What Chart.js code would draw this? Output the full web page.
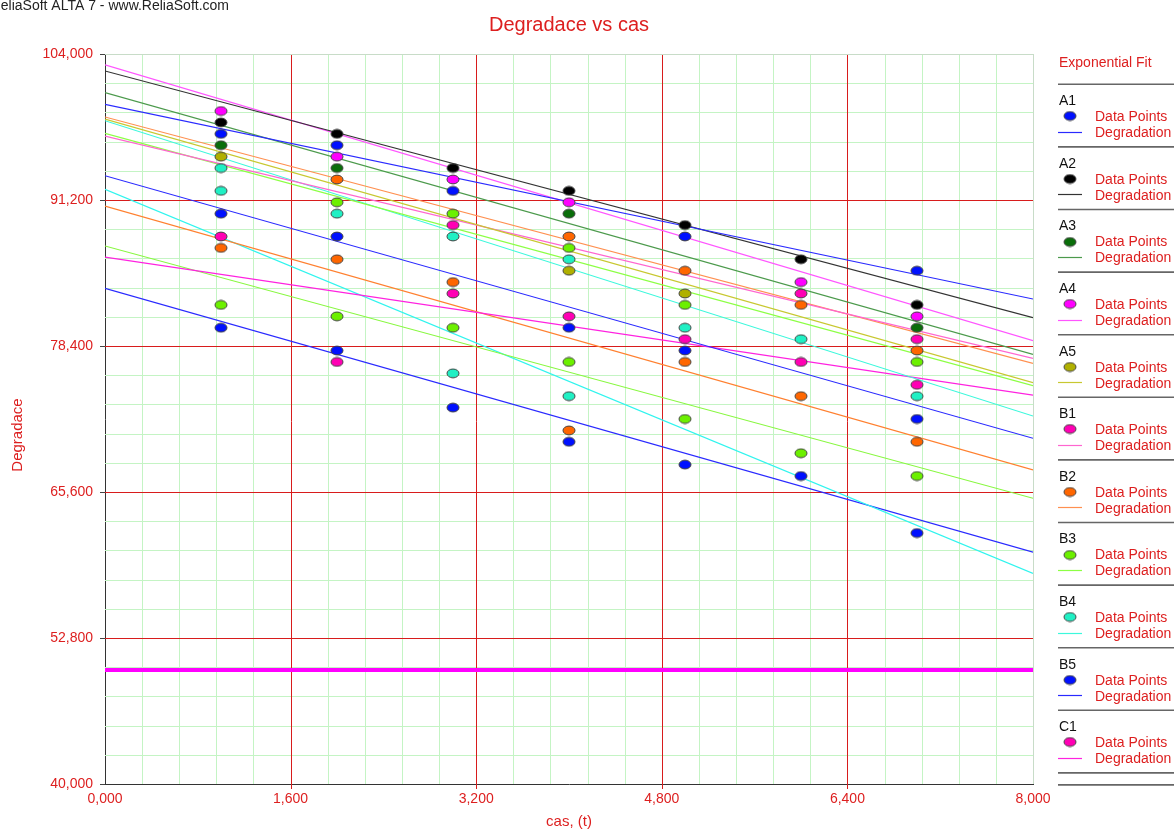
<!DOCTYPE html>
<html>
<head>
<meta charset="utf-8">
<title>Degradace vs cas</title>
<script src="https://cdn.jsdelivr.net/npm/chart.js@4.4.0/dist/chart.umd.min.js"></script>
<style>
  body { margin: 0; background: #fff; }
  #chart { display: block; }
</style>
</head>
<body>
<canvas id="chart" width="1174" height="833"></canvas>
<script>
// Inspection times (t) for every unit
const times = [1000, 2000, 3000, 4000, 5000, 6000, 7000];

// Unit names (only the first 11 fit in the legend)
const unitNames = ['A1', 'A2', 'A3', 'A4', 'A5', 'B1', 'B2', 'B3', 'B4', 'B5', 'C1', 'C2', 'C3', 'C4', 'C5'];

// Measured degradation per unit (null = hidden under another point)
const a1Values = [97000, 96000, 92000, null, 88000, null, 85000];
const a2Values = [98000, 97000, 94000, 92000, 89000, 86000, 82000];
const a3Values = [96000, 94000, null, 90000, null, null, 80000];
const a4Values = [99000, 95000, 93000, 91000, null, 84000, 81000];
const a5Values = [95000, null, null, 85000, 83000, null, null];
const b1Values = [null, null, 89000, null, null, 83000, 79000];
const b2Values = [null, 93000, null, 88000, 85000, 82000, 78000];
const b3Values = [null, 91000, 90000, 87000, 82000, null, 77000];
const b4Values = [94000, 90000, 88000, 86000, 80000, 79000, 74000];
const b5Values = [90000, 88000, null, 80000, 78000, null, 72000];
const c1Values = [88000, 77000, 83000, 81000, 79000, 77000, 75000];
const c2Values = [87000, 86000, 84000, 71000, 77000, 74000, 70000];
const c3Values = [82000, 81000, 80000, 77000, 72000, 69000, 67000];
const c4Values = [92000, null, 76000, 74000, null, null, null];
const c5Values = [80000, 78000, 73000, 70000, 68000, 67000, 62000];

// Exponential fit read at t = 0 and t = 8000
const fitStart = [99590, 102510, 100610, 103040, 98300, 96810, 98480, 97050, 98150, 93330, 86200, 90670, 87170, 92140, 83460];
const fitEnd   = [82520, 80880, 77670, 78870, 75180, 77320, 76880, 74920, 72260, 70310, 74100, 67530, 65050, 58470, 60320];

// Critical degradation level
const thresholdValue = 50000;

// Axes
const xMin = 0, xMax = 8000, xMajorStep = 1600, xMinorStep = 320;
const yMin = 40000, yMax = 104000, yMajorStep = 12800, yMinorStep = 2560;
const xTickLabels = ['0,000', '1,600', '3,200', '4,800', '6,400', '8,000'];
const yTickLabels = ['40,000', '52,800', '65,600', '78,400', '91,200', '104,000'];

const allValues = [a1Values, a2Values, a3Values, a4Values, a5Values, b1Values, b2Values, b3Values,
  b4Values, b5Values, c1Values, c2Values, c3Values, c4Values, c5Values];

// Colours
const pointColors = ['#0010ff', '#000000', '#0a6e0a', '#ff00ff', '#b0b000', '#ff00b4', '#ff6600', '#6cf000',
  '#20f0c4', '#0010ff', '#ff00b4', '#ff6600', '#6cf000', '#20f0c4', '#0010ff'];
const lineColors = ['#2a2aff', '#333333', '#4c9a4c', '#ff55ff', '#c8c830', '#ff66d0', '#ff9050', '#8cff44',
  '#3cf8dc', '#2a2aff', '#ff22e0', '#ff8030', '#88f840', '#30f4ee', '#2a2aff'];
const RED = '#d81c1c';
const TEXT_RED = '#dd1f1f';
const GRID_GREEN = '#c4f4c4';
const EDGE = '#c8dcc8';
const FONT = '"Liberation Sans", Arial, sans-serif';
const legendCount = 11;

// Ellipse marker drawn once per colour
function makeMarker(color) {
  const c = document.createElement('canvas');
  c.width = 14;
  c.height = 11;
  const g = c.getContext('2d');
  g.beginPath();
  g.ellipse(7, 5.5, 6, 4.4, 0, 0, Math.PI * 2);
  g.fillStyle = color;
  g.fill();
  g.lineWidth = 1;
  g.strokeStyle = '#404040';
  g.stroke();
  return c;
}
const markers = pointColors.map(makeMarker);

function isMultiple(value, min, step) {
  const k = (value - min) / step;
  return Math.abs(k - Math.round(k)) < 1e-6;
}

// Build datasets
const datasets = [];
unitNames.forEach((name, i) => {
  datasets.push({
    label: name + ' Data Points',
    data: allValues[i]
      .map((v, j) => (v == null ? null : { x: times[j], y: v }))
      .filter(p => p !== null),
    pointStyle: markers[i],
    pointRadius: 5,
    showLine: false,
    order: 0
  });
  datasets.push({
    label: name + ' Degradation',
    data: [{ x: xMin, y: fitStart[i] }, { x: xMax, y: fitEnd[i] }],
    showLine: true,
    borderColor: lineColors[i],
    borderWidth: 1.2,
    pointRadius: 0,
    fill: false,
    order: 1
  });
});
datasets.push({
  label: 'Threshold',
  data: [{ x: xMin, y: thresholdValue }, { x: xMax, y: thresholdValue }],
  showLine: true,
  borderColor: '#ff00ff',
  borderWidth: 4,
  pointRadius: 0,
  order: 2
});

// Major (red) and minor (green) grid, drawn from the scales' ticks
const altaGrid = {
  id: 'altaGrid',
  beforeDatasetsDraw(chart) {
    const ctx = chart.ctx;
    const area = chart.chartArea;
    const xs = chart.scales.x, ys = chart.scales.y;
    const px = v => Math.round(v) + 0.5;
    ctx.save();
    ctx.lineWidth = 1;
    const pass = major => {
      xs.ticks.forEach(t => {
        const isMajor = isMultiple(t.value, xMin, xMajorStep);
        if (isMajor !== major || t.value === xMin) return;
        const x = px(xs.getPixelForValue(t.value));
        ctx.strokeStyle = t.value === xMax ? EDGE : (isMajor ? RED : GRID_GREEN);
        ctx.beginPath();
        ctx.moveTo(x, area.top);
        ctx.lineTo(x, isMajor && t.value !== xMax ? area.bottom + 5 : area.bottom);
        ctx.stroke();
      });
      ys.ticks.forEach(t => {
        const isMajor = isMultiple(t.value, yMin, yMajorStep);
        if (isMajor !== major || t.value === yMin) return;
        const y = px(ys.getPixelForValue(t.value));
        ctx.strokeStyle = t.value === yMax ? EDGE : (isMajor ? RED : GRID_GREEN);
        ctx.beginPath();
        ctx.moveTo(area.left, y);
        ctx.lineTo(area.right, y);
        ctx.stroke();
      });
    };
    pass(false);
    pass(true);
    // tick marks left of the y axis
    ctx.strokeStyle = '#444';
    ys.ticks.forEach(t => {
      if (!isMultiple(t.value, yMin, yMajorStep)) return;
      const y = px(ys.getPixelForValue(t.value));
      ctx.beginPath();
      ctx.moveTo(area.left - 5, y);
      ctx.lineTo(area.left, y);
      ctx.stroke();
    });
    ctx.restore();
  }
};

// Texts and the ALTA style legend
const altaDecor = {
  id: 'altaDecor',
  afterDraw(chart) {
    const ctx = chart.ctx;
    ctx.save();

    ctx.textBaseline = 'middle';
    ctx.font = '14px ' + FONT;
    ctx.fillStyle = '#222';
    ctx.textAlign = 'right';
    ctx.fillText('ReliaSoft ALTA 7 - www.ReliaSoft.com', 229, 6);

    ctx.fillStyle = TEXT_RED;
    ctx.textAlign = 'center';
    ctx.font = '20px ' + FONT;
    ctx.fillText('Degradace vs cas', 569, 25);

    ctx.font = '15px ' + FONT;
    ctx.fillText('cas, (t)', 569, 822);

    ctx.save();
    ctx.translate(18, 435);
    ctx.rotate(-Math.PI / 2);
    ctx.fillText('Degradace', 0, 0);
    ctx.restore();

    // legend
    ctx.textAlign = 'left';
    ctx.font = '14px ' + FONT;
    ctx.fillText('Exponential Fit', 1059, 63);

    const sepX0 = 1058, sepX1 = 1174;
    const firstSep = 84.3, gap = 62.6;
    ctx.strokeStyle = '#666';
    ctx.lineWidth = 1.6;
    const drawSep = y => {
      ctx.beginPath();
      ctx.moveTo(sepX0, y);
      ctx.lineTo(sepX1, y);
      ctx.stroke();
    };
    drawSep(firstSep);
    for (let i = 0; i < legendCount; i++) {
      const s = firstSep + gap * i;
      ctx.fillStyle = '#111';
      ctx.fillText(unitNames[i], 1059, s + 17);
      ctx.drawImage(markers[i], 1070 - 7, Math.round(s + 32) - 5.5);
      ctx.fillStyle = TEXT_RED;
      ctx.fillText('Data Points', 1095, s + 33);
      ctx.fillText('Degradation', 1095, s + 49);
      ctx.save();
      ctx.strokeStyle = lineColors[i];
      ctx.lineWidth = 1.2;
      ctx.beginPath();
      ctx.moveTo(1058, Math.round(s + 47.5) + 0.5);
      ctx.lineTo(1082, Math.round(s + 47.5) + 0.5);
      ctx.stroke();
      ctx.restore();
      drawSep(s + gap);
    }
    drawSep(firstSep + gap * legendCount + 12);

    ctx.restore();
  }
};

new Chart(document.getElementById('chart'), {
  type: 'scatter',
  data: { datasets },
  plugins: [altaGrid, altaDecor],
  options: {
    responsive: false,
    animation: false,
    layout: { padding: { left: 0, top: 54, right: 141, bottom: 0 } },
    plugins: {
      legend: { display: false },
      tooltip: { enabled: false },
      title: { display: false }
    },
    scales: {
      x: {
        type: 'linear',
        min: xMin,
        max: xMax,
        afterFit: s => { s.height = 49; },
        afterBuildTicks: s => {
          s.ticks = [];
          for (let v = xMin; v <= xMax; v += xMinorStep) s.ticks.push({ value: v });
        },
        border: { display: true, color: '#333', width: 1 },
        grid: { display: false, drawTicks: true, tickLength: 5 },
        ticks: {
          autoSkip: false,
          maxRotation: 0,
          padding: 2,
          color: TEXT_RED,
          font: { family: FONT, size: 14 },
          callback: v => (isMultiple(v, xMin, xMajorStep) ? xTickLabels[Math.round((v - xMin) / xMajorStep)] : '')
        }
      },
      y: {
        type: 'linear',
        min: yMin,
        max: yMax,
        afterFit: s => { s.width = 105; },
        afterBuildTicks: s => {
          s.ticks = [];
          for (let v = yMin; v <= yMax; v += yMinorStep) s.ticks.push({ value: v });
        },
        border: { display: true, color: '#333', width: 1 },
        grid: { display: false, drawTicks: true, tickLength: 5 },
        ticks: {
          autoSkip: false,
          padding: 7,
          color: TEXT_RED,
          font: { family: FONT, size: 14 },
          callback: v => (isMultiple(v, yMin, yMajorStep) ? yTickLabels[Math.round((v - yMin) / yMajorStep)] : '')
        }
      }
    }
  }
});
</script>
</body>
</html>
